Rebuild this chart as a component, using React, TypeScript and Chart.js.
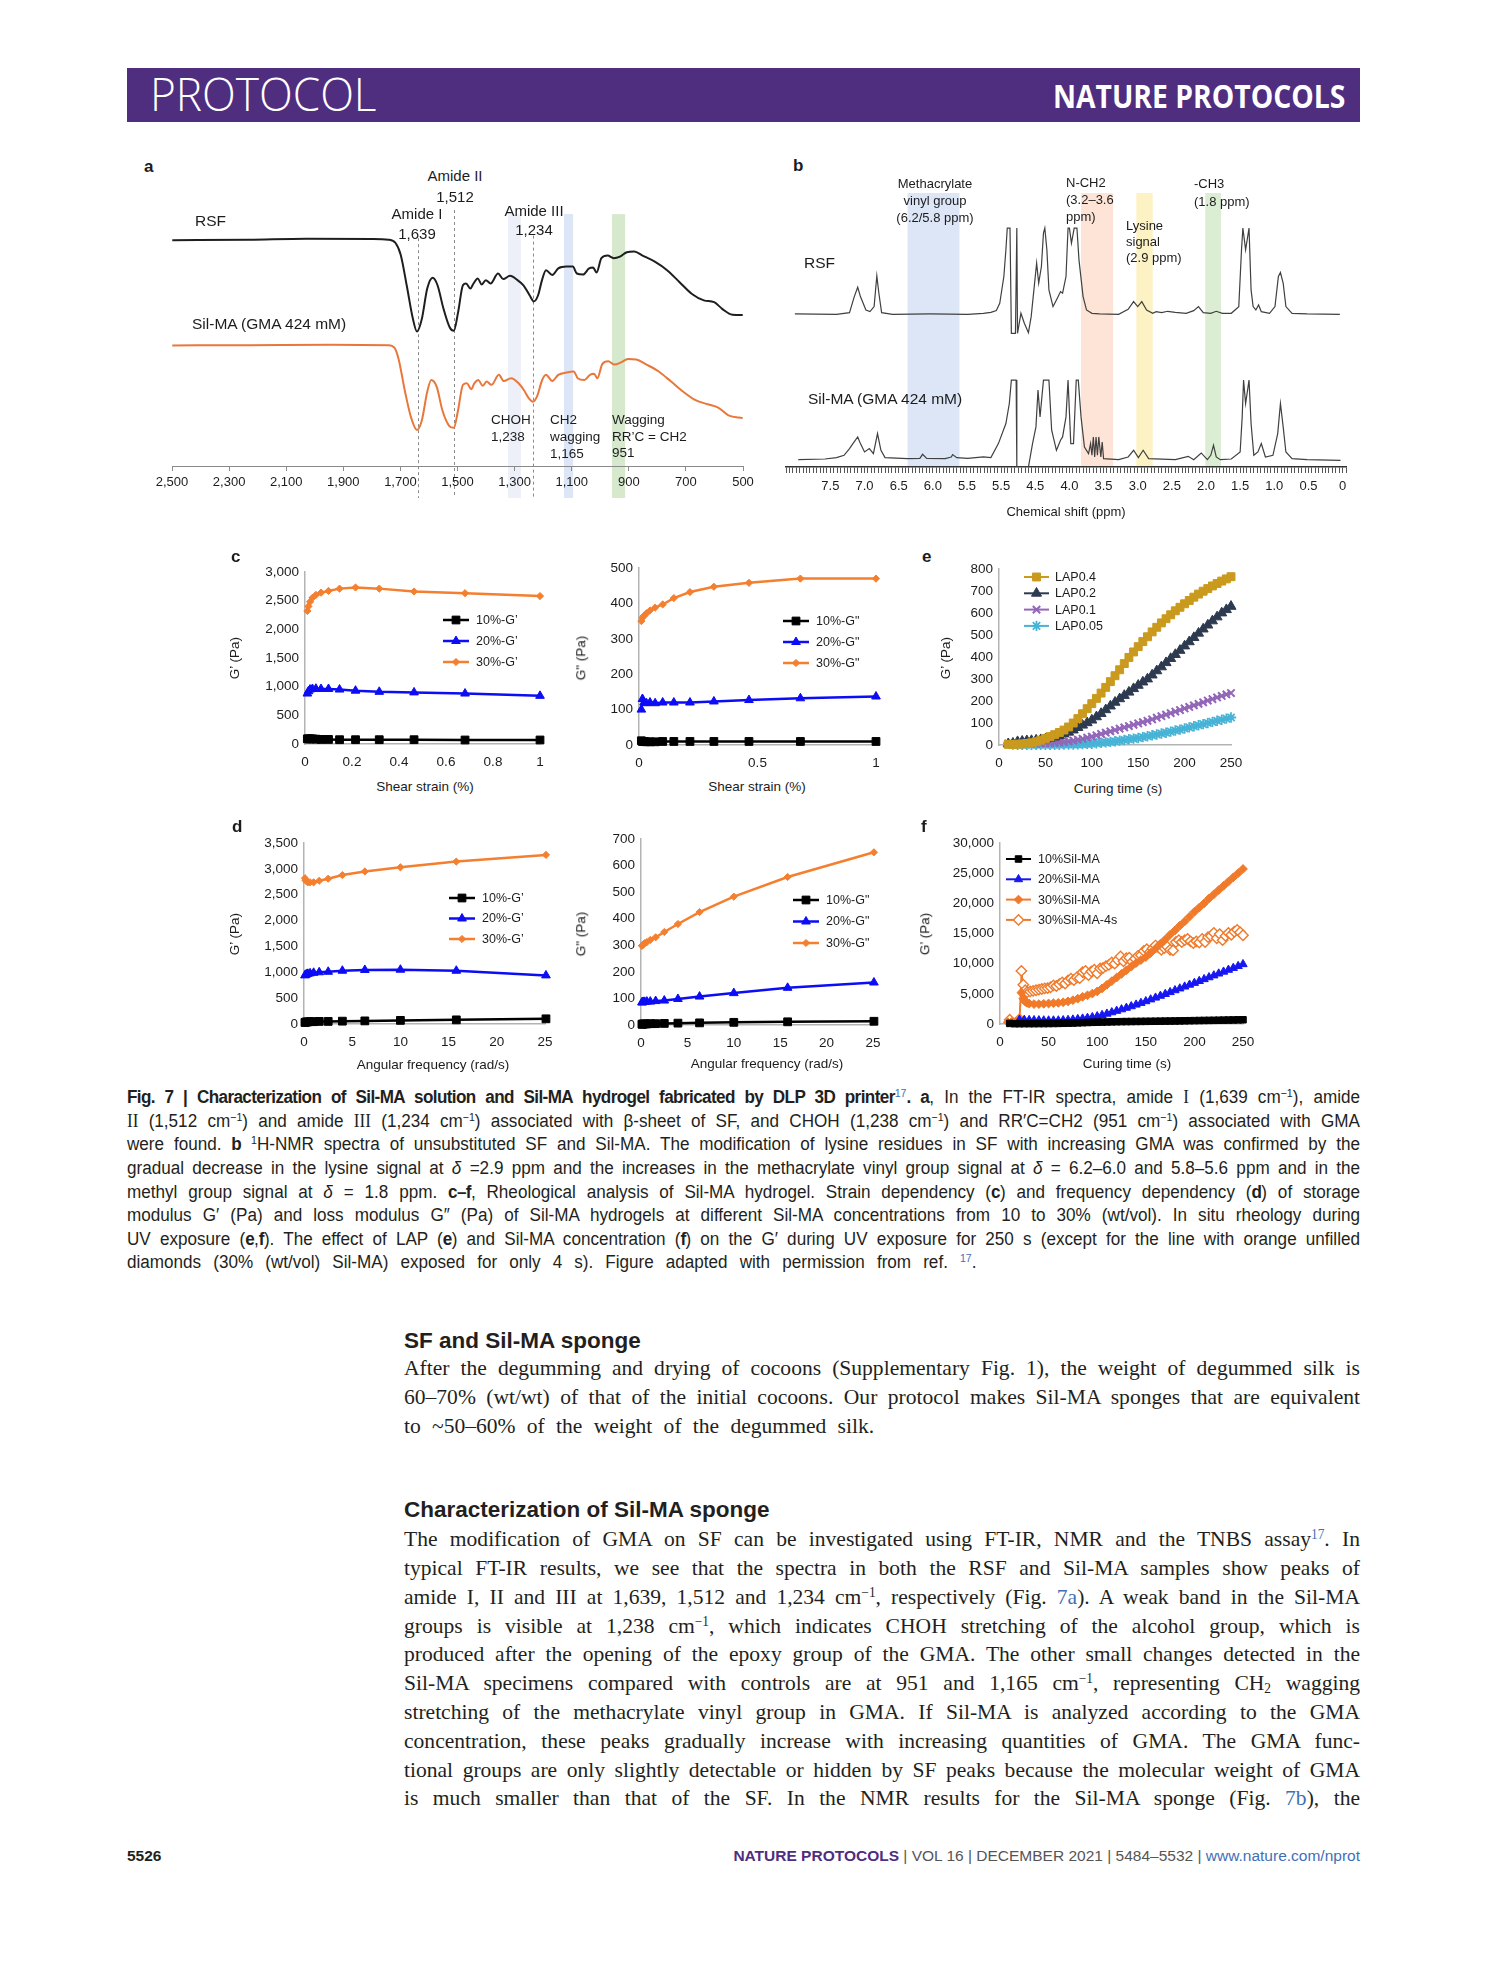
import React, { useEffect, useRef } from 'react';
import { Chart, registerables } from 'chart.js';
import { drawPoint } from 'chart.js/helpers';

Chart.register(...registerables);

const FONT = '"Liberation Sans", Arial, Helvetica, sans-serif';
const SERIF = '"Liberation Serif", "Times New Roman", serif';
const INK = '#1c1c1c';
const AXIS = '#b3b3b3';
const PURPLE = '#4f2d7f';
const LINK = '#3f6fb6';

// ---------------- Panel a : FT-IR ----------------
const aRsfWavenumber = [2499, 2230, 2029, 1800, 1742, 1717, 1699, 1678, 1656, 1642, 1625, 1606, 1587, 1570, 1549, 1527, 1513, 1498, 1481, 1470, 1455, 1444, 1429, 1415, 1401, 1384, 1358, 1340, 1316, 1290, 1269, 1247, 1233, 1218, 1204, 1190, 1168, 1147, 1118, 1096, 1082, 1060, 1039, 1025, 1013, 996, 974, 953, 931, 907, 881, 852, 809, 766, 723, 680, 637, 601, 573, 537, 501];
const aRsfSignal = [88.2, 88.4, 88.8, 88.7, 88.4, 87.1, 82.5, 70.6, 57.4, 52.5, 57.4, 69.3, 73.5, 70.6, 61.4, 54.1, 52.8, 60.0, 70.6, 71.3, 69.3, 71.3, 73.2, 70.9, 72.6, 71.3, 75.2, 73.0, 74.3, 72.6, 70.6, 66.6, 64.3, 66.6, 72.6, 76.5, 74.6, 77.2, 77.9, 77.9, 75.2, 74.8, 77.2, 77.5, 75.6, 81.2, 82.2, 81.2, 81.8, 83.5, 83.8, 82.2, 79.8, 76.5, 71.9, 67.3, 64.7, 64.0, 61.4, 59.1, 59.0];
const aSilWavenumber = [2499, 2230, 1943, 1742, 1721, 1706, 1685, 1663, 1642, 1625, 1606, 1592, 1573, 1553, 1530, 1513, 1498, 1481, 1467, 1452, 1441, 1427, 1412, 1398, 1381, 1355, 1338, 1312, 1286, 1266, 1250, 1236, 1221, 1204, 1190, 1168, 1147, 1118, 1093, 1079, 1056, 1036, 1022, 1010, 993, 972, 950, 927, 903, 874, 838, 795, 752, 709, 666, 623, 587, 551, 501];
const aSilSignal = [47.1, 47.2, 47.4, 47.2, 46.2, 41.6, 29.7, 19.1, 14.1, 17.8, 29.0, 33.6, 31.0, 21.8, 15.8, 14.9, 21.8, 31.7, 32.3, 30.0, 32.3, 33.6, 31.3, 33.0, 31.7, 35.6, 33.2, 34.3, 32.3, 29.4, 26.4, 25.1, 27.3, 33.4, 35.6, 33.2, 35.6, 36.5, 36.9, 34.3, 33.6, 35.6, 36.0, 34.3, 39.8, 40.9, 39.6, 40.5, 41.8, 41.6, 39.6, 36.9, 33.0, 29.0, 25.7, 24.1, 22.8, 19.8, 18.7];
const aBandRanges = [[1323, 1278], [1127, 1095], [959, 913]];
const aBandExtent = [98.4, -12.5];
const aPeakLines = [1639, 1512, 1234];
const aPeakLineTops = [89, 100, 90];

// ---------------- Panel b : 1H-NMR ----------------
const bRsfShift = [8.02, 7.41, 7.22, 7.15, 7.10, 7.06, 6.98, 6.92, 6.86, 6.82, 6.79, 6.75, 6.59, 6.04, 5.49, 5.26, 5.15, 5.07, 5.02, 4.96, 4.93, 4.91, 4.87, 4.85, 4.79, 4.77, 4.76, 4.71, 4.66, 4.60, 4.56, 4.52, 4.48, 4.45, 4.41, 4.38, 4.36, 4.33, 4.30, 4.24, 4.19, 4.13, 4.10, 4.05, 4.02, 4.00, 3.97, 3.93, 3.89, 3.86, 3.80, 3.75, 3.67, 3.56, 3.28, 3.14, 3.06, 3.00, 2.94, 2.87, 2.78, 2.73, 2.65, 2.56, 2.45, 2.29, 2.18, 2.11, 2.04, 1.93, 1.85, 1.76, 1.63, 1.52, 1.48, 1.46, 1.42, 1.37, 1.34, 1.31, 1.27, 1.23, 1.19, 1.07, 0.99, 0.94, 0.91, 0.87, 0.83, 0.74, 0.52, 0.04];
const bRsfSignal = [45.8, 45.7, 46.2, 51.0, 53.8, 51.0, 47.0, 46.5, 48.0, 57.2, 52.0, 46.2, 45.7, 45.8, 45.7, 46.0, 46.3, 46.8, 49.0, 57.0, 65.0, 71.5, 71.5, 40.0, 40.0, 71.5, 40.0, 46.0, 43.0, 40.2, 45.0, 53.0, 61.0, 55.0, 60.0, 70.0, 71.5, 65.0, 53.0, 48.0, 50.0, 52.5, 52.0, 57.0, 71.5, 71.5, 67.0, 71.5, 71.5, 62.0, 51.0, 47.0, 46.0, 45.8, 45.7, 47.2, 49.5, 48.0, 49.5, 47.0, 46.0, 46.5, 46.2, 46.6, 46.3, 46.0, 46.8, 48.0, 46.2, 46.0, 46.6, 46.0, 46.0, 48.0, 65.0, 71.5, 65.0, 71.5, 53.0, 48.0, 47.0, 48.5, 46.5, 46.0, 48.0, 57.0, 58.2, 55.0, 48.0, 46.0, 45.8, 45.7];
const bSilShift = [7.97, 7.58, 7.41, 7.30, 7.22, 7.17, 7.10, 7.06, 7.00, 6.93, 6.87, 6.81, 6.76, 6.70, 6.37, 6.19, 6.15, 6.09, 5.82, 5.73, 5.71, 5.65, 5.49, 5.26, 5.15, 5.04, 4.93, 4.88, 4.85, 4.78, 4.77, 4.60, 4.54, 4.49, 4.46, 4.43, 4.38, 4.30, 4.26, 4.19, 4.13, 4.10, 4.05, 4.02, 3.98, 3.94, 3.90, 3.87, 3.83, 3.78, 3.72, 3.69, 3.67, 3.65, 3.63, 3.61, 3.59, 3.57, 3.54, 3.52, 3.50, 3.28, 3.14, 3.06, 2.99, 2.92, 2.84, 2.45, 2.26, 2.18, 2.07, 1.98, 1.93, 1.89, 1.85, 1.79, 1.63, 1.50, 1.47, 1.45, 1.42, 1.37, 1.34, 1.30, 1.24, 1.19, 1.13, 1.02, 0.95, 0.91, 0.87, 0.83, 0.74, 0.52, 0.03];
const bSilSignal = [2.2, 2.4, 2.8, 3.5, 5.5, 7.0, 9.0, 7.0, 4.5, 5.5, 4.0, 10.0, 5.0, 2.8, 2.5, 2.6, 3.8, 2.6, 2.5, 3.0, 3.7, 2.8, 2.6, 3.0, 2.8, 7.0, 13.0, 19.0, 26.0, 26.0, 0, 0, 7.0, 12.0, 23.0, 15.0, 26.0, 26.0, 11.0, 5.0, 8.0, 9.0, 15.0, 26.0, 7.0, 7.0, 26.0, 26.0, 15.0, 6.0, 4.0, 7.0, 3.5, 9.0, 3.0, 9.0, 3.5, 9.0, 3.0, 7.5, 2.5, 2.2, 3.0, 5.0, 2.8, 5.0, 2.5, 2.2, 3.2, 2.2, 4.2, 2.2, 3.5, 6.5, 3.0, 2.2, 2.4, 4.5, 15.0, 26.0, 19.0, 26.0, 13.0, 3.5, 4.5, 7.0, 3.0, 3.5, 10.0, 19.0, 12.0, 4.5, 2.5, 2.2, 2.0];
const bBandRanges = [[6.37, 5.61], [3.83, 3.36], [3.02, 2.78], [2.01, 1.78]];
const bBandExtent = [82, 0];
const bTickLabels = ['0', '0.5', '1.0', '1.5', '2.0', '2.5', '3.0', '3.5', '4.0', '4.5', '5.5', '5.5', '6.0', '6.5', '7.0', '7.5'];

// ---------------- Panel c : strain sweep ----------------
const cStrain = [0.01, 0.0147, 0.0215, 0.0316, 0.0464, 0.0681, 0.1, 0.147, 0.215, 0.316, 0.464, 0.681, 1];
const cStorage10 = [90, 90, 90, 90, 85, 80, 80, 75, 75, 75, 75, 70, 70];
const cStorage20 = [880, 920, 950, 960, 965, 960, 960, 950, 930, 910, 900, 880, 840];
const cStorage30 = [2320, 2400, 2480, 2550, 2600, 2640, 2670, 2710, 2730, 2710, 2660, 2630, 2580];
const cLoss10 = [12, 10, 10, 9, 9, 9, 10, 10, 10, 10, 10, 10, 10];
const cLoss20 = [100, 130, 120, 118, 120, 118, 120, 120, 120, 123, 127, 132, 137];
const cLoss30 = [350, 360, 365, 372, 380, 388, 397, 415, 432, 447, 458, 470, 470];

// ---------------- Panel d : frequency sweep ----------------
const dFrequency = [0.1, 0.158, 0.251, 0.398, 0.631, 1, 1.58, 2.51, 3.98, 6.31, 10, 15.8, 25.1];
const dStorage10 = [30, 35, 40, 40, 45, 45, 50, 50, 55, 60, 70, 80, 100];
const dStorage20 = [940, 950, 960, 970, 980, 990, 1000, 1010, 1030, 1045, 1050, 1030, 940];
const dStorage30 = [2820, 2780, 2760, 2740, 2740, 2740, 2770, 2810, 2880, 2950, 3030, 3140, 3270];
const dLoss10 = [3, 3, 4, 4, 4, 5, 5, 6, 7, 8, 10, 12, 14];
const dLoss20 = [85, 85, 87, 87, 88, 88, 90, 92, 98, 107, 120, 140, 160];
const dLoss30 = [298, 300, 303, 308, 312, 320, 330, 350, 380, 425, 483, 557, 650];

// ---------------- Panel e : LAP effect ----------------
const eTime = [10, 15, 20, 25, 30, 35, 40, 45, 50, 55, 60, 65, 70, 75, 80, 85, 90, 95, 100, 105, 110, 115, 120, 125, 130, 135, 140, 145, 150, 155, 160, 165, 170, 175, 180, 185, 190, 195, 200, 205, 210, 215, 220, 225, 230, 235, 240, 245, 250];
const eLAP04 = [3, 3, 4, 5, 7, 10, 15, 22, 30, 38, 47, 57, 68, 82, 100, 120, 142, 165, 188, 212, 236, 262, 288, 315, 342, 370, 398, 423, 447, 470, 492, 514, 535, 555, 574, 592, 610, 626, 642, 657, 672, 686, 699, 711, 723, 734, 745, 755, 765];
const eLAP02 = [5, 8, 15, 17, 19, 20, 22, 24, 27, 31, 36, 42, 50, 58, 68, 79, 90, 101, 113, 128, 143, 160, 177, 194, 210, 225, 240, 256, 271, 286, 300, 318, 337, 355, 374, 393, 411, 430, 450, 469, 488, 508, 527, 545, 564, 582, 600, 615, 630];
const eLAP01 = [3, 4, 5, 5, 5, 6, 6, 7, 8, 9, 10, 12, 14, 17, 20, 24, 28, 33, 38, 44, 50, 56, 62, 68, 74, 80, 86, 92, 98, 104, 110, 117, 124, 131, 138, 145, 152, 159, 166, 173, 180, 187, 194, 202, 209, 216, 223, 230, 236];
const eLAP005 = [8, 2, 1, 1, 1, 1, 1, 1, 1, 1, 1, 1, 2, 2, 2, 3, 4, 5, 6, 8, 10, 12, 14, 17, 20, 23, 26, 29, 32, 36, 40, 44, 48, 52, 56, 61, 66, 70, 75, 80, 85, 90, 95, 100, 105, 110, 115, 120, 125];

// ---------------- Panel f : Sil-MA concentration ----------------
const f10Time = [10, 15, 20, 25, 30, 35, 40, 45, 50, 55, 60, 65, 70, 75, 80, 85, 90, 95, 100, 105, 110, 115, 120, 125, 130, 135, 140, 145, 150, 155, 160, 165, 170, 175, 180, 185, 190, 195, 200, 205, 210, 215, 220, 225, 230, 235, 240, 245, 250];
const f10SilMA = [100, 50, 50, 60, 60, 60, 70, 70, 80, 90, 100, 120, 140, 160, 190, 220, 250, 280, 300, 320, 340, 360, 375, 390, 400, 410, 420, 430, 440, 450, 460, 470, 480, 490, 500, 515, 530, 545, 560, 575, 590, 600, 610, 625, 640, 655, 670, 690, 700];
const f20Time = [20, 25, 30, 35, 40, 45, 50, 55, 60, 65, 70, 75, 80, 85, 90, 95, 100, 105, 110, 115, 120, 125, 130, 135, 140, 145, 150, 155, 160, 165, 170, 175, 180, 185, 190, 195, 200, 205, 210, 215, 220, 225, 230, 235, 240, 245, 250];
const f20SilMA = [700, 680, 650, 620, 600, 580, 570, 570, 580, 610, 660, 720, 800, 890, 1000, 1130, 1270, 1480, 1700, 1930, 2170, 2420, 2670, 2930, 3200, 3480, 3760, 4060, 4360, 4660, 4960, 5270, 5580, 5880, 6190, 6500, 6800, 7110, 7420, 7730, 8040, 8350, 8660, 8970, 9280, 9590, 9900];
const f30Time = [8, 12, 16, 20, 22, 24, 26, 28, 30, 35, 40, 45, 50, 55, 60, 65, 70, 75, 80, 85, 90, 95, 100, 105, 110, 115, 120, 125, 130, 135, 140, 145, 150, 155, 160, 165, 170, 175, 180, 185, 190, 195, 200, 205, 210, 215, 220, 225, 230, 235, 240, 245, 250];
const f30SilMA = [300, 350, 400, 700, 5200, 4200, 3700, 3500, 3400, 3300, 3300, 3350, 3400, 3450, 3500, 3600, 3750, 3950, 4200, 4500, 4750, 5050, 5400, 5900, 6500, 7100, 7700, 8300, 8900, 9500, 10100, 10600, 11100, 11800, 12500, 13300, 14000, 14800, 15500, 16300, 17000, 17800, 18600, 19300, 20000, 20800, 21500, 22200, 22900, 23600, 24300, 25000, 25700];
const f4sTime = [10, 20, 22, 24, 26, 28, 31, 34, 37, 40, 43, 46, 49, 52, 55, 58, 61, 64, 67, 70, 73, 76, 79, 82, 85, 88, 91, 94, 97, 100, 103, 106, 109, 112, 115, 118, 121, 124, 127, 130, 133, 136, 139, 142, 145, 148, 151, 154, 157, 160, 163, 166, 169, 172, 175, 178, 181, 184, 187, 190, 193, 196, 199, 202, 205, 208, 211, 214, 217, 220, 223, 226, 229, 232, 235, 238, 241, 244, 247, 250];
const f30SilMA4s = [700, 800, 8800, 6500, 5600, 5300, 5400, 5500, 5600, 5700, 5800, 5900, 5950, 6100, 6400, 6300, 6600, 6900, 6700, 7200, 7500, 7300, 7700, 7600, 8600, 8800, 8100, 8700, 9000, 8400, 9200, 9300, 9600, 9800, 10200, 10000, 10600, 11200, 10400, 10900, 11000, 10300, 10800, 11300, 11400, 12100, 12400, 11900, 12500, 13000, 12700, 12300, 12600, 12800, 12300, 12200, 13600, 13900, 13600, 13900, 14100, 13700, 13400, 13700, 13500, 14100, 13600, 14400, 14600, 15100, 14200, 14900, 13900, 14600, 15100, 14800, 15300, 15600, 15200, 14700];

// ---------------- helpers ----------------
const pts = (xs: number[], ys: number[]) => xs.map((x, i) => ({ x, y: ys[i] }));
const fmt = (v: any) => Number(v).toLocaleString('en-US', { maximumFractionDigits: 2 });
const fitTo = (size: number) => (s: any) => {
  if (s.isHorizontal()) s.height = size;
  else s.width = size;
  s.paddingLeft = 0; s.paddingRight = 0; s.paddingTop = 0; s.paddingBottom = 0;
};

function bandPlugin(ranges: number[][], colors: string[], extent: number[], lines: number[] = [], lineTops: number[] = []) {
  return {
    id: 'bands',
    beforeDraw(chart: any) {
      const { ctx } = chart;
      const x = chart.scales.x;
      const y = chart.scales.y;
      ctx.save();
      ranges.forEach((r, i) => {
        const xa = x.getPixelForValue(r[0]);
        const xb = x.getPixelForValue(r[1]);
        const ya = y.getPixelForValue(extent[0]);
        const yb = y.getPixelForValue(extent[1]);
        ctx.fillStyle = colors[i];
        ctx.fillRect(Math.min(xa, xb), Math.min(ya, yb), Math.abs(xb - xa), Math.abs(yb - ya));
      });
      ctx.strokeStyle = '#8a8a8a';
      ctx.lineWidth = 1;
      ctx.setLineDash([3, 3]);
      lines.forEach((v, i) => {
        const px = Math.round(x.getPixelForValue(v)) + 0.5;
        ctx.beginPath();
        ctx.moveTo(px, y.getPixelForValue(lineTops[i]));
        ctx.lineTo(px, y.getPixelForValue(extent[1]));
        ctx.stroke();
      });
      ctx.restore();
    },
  };
}

function legendPlugin(lg: any, ox: number, oy: number) {
  return {
    id: 'insideLegend',
    afterDraw(chart: any) {
      const ctx = chart.ctx;
      ctx.save();
      chart.data.datasets.forEach((ds: any, i: number) => {
        const x = lg.x - ox;
        const y = lg.y - oy + i * lg.row;
        ctx.setLineDash([]);
        ctx.strokeStyle = ds.borderColor;
        ctx.lineWidth = lg.lw;
        ctx.beginPath();
        ctx.moveTo(x, y);
        ctx.lineTo(x + lg.len, y);
        ctx.stroke();
        ctx.fillStyle = ds.pointBackgroundColor;
        ctx.strokeStyle = ds.pointBorderColor;
        ctx.lineWidth = ds.pointBorderWidth;
        drawPoint(ctx, { pointStyle: ds.pointStyle, rotation: 0, radius: ds.pointRadius, borderWidth: ds.pointBorderWidth } as any, x + lg.len / 2, y);
        ctx.fillStyle = INK;
        ctx.font = `${lg.size}px ${FONT}`;
        ctx.textBaseline = 'middle';
        ctx.textAlign = 'left';
        ctx.fillText(ds.label, x + lg.len + lg.gap, y + 0.5);
      });
      ctx.restore();
    },
  };
}

const STY: any = {
  black: { color: '#000000', fill: '#000000', point: 'rect', r: 5.5, bw: 1 },
  blue: { color: '#0c0cf5', fill: '#0c0cf5', point: 'triangle', r: 5, bw: 1 },
  orange: { color: '#f47f2e', fill: '#f47f2e', point: 'rectRot', r: 3.6, bw: 1 },
  fblack: { color: '#000000', fill: '#000000', point: 'rect', r: 4.6, bw: 1 },
  fblue: { color: '#1717f2', fill: '#1717f2', point: 'triangle', r: 4.8, bw: 1 },
  forange: { color: '#f07a2a', fill: '#f07a2a', point: 'rectRot', r: 4.4, bw: 1 },
  fopen: { color: '#f07a2a', fill: '#ffffff', point: 'rectRot', r: 5.2, bw: 1.4 },
  lap04: { color: '#c99a1d', fill: '#c99a1d', point: 'rect', r: 5.6, bw: 1 },
  lap02: { color: '#2d3a4f', fill: '#2d3a4f', point: 'triangle', r: 5.8, bw: 1 },
  lap01: { color: '#9266b8', fill: '#9266b8', point: 'crossRot', r: 5.2, bw: 2 },
  lap005: { color: '#47b3d6', fill: '#47b3d6', point: 'star', r: 5.2, bw: 1.8 },
};

function series(label: string, xs: number[], ys: number[], st: any, lw: number) {
  return {
    label, data: pts(xs, ys), showLine: true, borderColor: st.color, backgroundColor: st.fill, borderWidth: lw,
    pointStyle: st.point, pointRadius: st.r, pointBackgroundColor: st.fill, pointBorderColor: st.color,
    pointBorderWidth: st.bw, clip: false, tension: 0,
  };
}

const baseOpts = (padding: any) => ({
  animation: false, responsive: false, maintainAspectRatio: false, layout: { padding },
  plugins: { legend: { display: false }, tooltip: { enabled: false } },
  events: [],
});

function rheoConfig(pad: any, ox: number, oy: number, datasets: any[], xr: number[], yr: number[], lg: any) {
  const font = { family: FONT, size: 13.5 };
  return {
    type: 'scatter',
    data: { datasets },
    options: {
      ...baseOpts({ left: 0, top: pad.t, right: pad.r, bottom: 0 }),
      scales: {
        x: {
          type: 'linear', min: xr[0], max: xr[1], afterFit: fitTo(pad.b),
          ticks: { stepSize: xr[2], autoSkip: false, maxRotation: 0, minRotation: 0, padding: 10, color: INK, font, callback: fmt },
          grid: { display: false, drawTicks: false },
          border: { display: true, color: AXIS, width: 1.5 },
        },
        y: {
          type: 'linear', min: yr[0], max: yr[1], afterFit: fitTo(pad.l),
          ticks: { stepSize: yr[2], autoSkip: false, padding: 6, color: INK, font, callback: fmt },
          grid: { display: false, drawTicks: false },
          border: { display: true, color: AXIS, width: 1.5 },
        },
      },
    },
    plugins: [legendPlugin(lg, ox, oy)],
  };
}

function ChartBox({ area, pad, make }: any) {
  const ref = useRef<HTMLCanvasElement | null>(null);
  const left = area.x0 - pad.l;
  const top = area.y0 - pad.t;
  const width = area.x1 - area.x0 + pad.l + pad.r;
  const height = area.y1 - area.y0 + pad.t + pad.b;
  useEffect(() => {
    const chart = new Chart(ref.current as HTMLCanvasElement, make(pad, left, top) as any);
    return () => chart.destroy();
  }, []);
  return <canvas ref={ref} width={width} height={height} style={{ position: 'absolute', left, top, width, height }} />;
}

function L({ x, y, s = 13.5, a = 'l', w = 400, c = INK, f = FONT, rot = false, children }: any) {
  const tx = a === 'c' ? '-50%' : a === 'r' ? '-100%' : '0%';
  return (
    <div style={{ position: 'absolute', left: x, top: y, fontFamily: f, fontSize: s, fontWeight: w, color: c, lineHeight: 1, whiteSpace: 'nowrap', transform: rot ? 'translate(-50%,-50%) rotate(-90deg)' : `translate(${tx},-50%)` }}>
      {children}
    </div>
  );
}

function JL({ x, y, w, s, f, sc = 1, last = false, ws = 0, c = '#231f20', children }: any) {
  return (
    <div style={{ position: 'absolute', left: x, top: y - 0.6 * s, width: w / sc, transform: `scaleX(${sc})`, transformOrigin: '0 0', fontFamily: f, fontSize: s, lineHeight: 1, textAlign: 'justify', textAlignLast: last ? 'left' : 'justify', wordSpacing: ws, color: c } as any}>
      {children}
    </div>
  );
}

const Sp = ({ children, blue }: any) => (
  <span style={{ fontSize: '0.62em', verticalAlign: '0.55em', lineHeight: 0, color: blue ? LINK : undefined }}>{children}</span>
);
const Sb = ({ children }: any) => (
  <span style={{ fontSize: '0.62em', verticalAlign: '-0.25em', lineHeight: 0 }}>{children}</span>
);
const Rn = ({ children }: any) => <span style={{ fontFamily: SERIF }}>{children}</span>;
const B = ({ children }: any) => <b style={{ letterSpacing: '-0.035em' }}>{children}</b>;

// ---------------- chart builders ----------------
const makeA = (pad: any) => ({
  type: 'scatter',
  data: {
    datasets: [
      { label: 'RSF', data: pts(aRsfWavenumber, aRsfSignal), showLine: true, borderColor: '#1e1e1e', borderWidth: 2, pointRadius: 0, cubicInterpolationMode: 'monotone', tension: 0.4 },
      { label: 'Sil-MA (GMA 424 mM)', data: pts(aSilWavenumber, aSilSignal), showLine: true, borderColor: '#e9773a', borderWidth: 2, pointRadius: 0, cubicInterpolationMode: 'monotone', tension: 0.4 },
    ],
  },
  options: {
    ...baseOpts({ left: pad.l, top: pad.t, right: pad.r, bottom: 0 }),
    scales: {
      x: {
        type: 'linear', reverse: true, min: 500, max: 2500, afterFit: fitTo(pad.b),
        ticks: { stepSize: 200, autoSkip: false, maxRotation: 0, minRotation: 0, padding: 4, color: INK, font: { family: FONT, size: 13 }, callback: fmt },
        grid: { display: true, drawOnChartArea: false, drawTicks: true, tickLength: 5, color: '#8a8a8a' },
        border: { display: true, color: '#8a8a8a', width: 1 },
      },
      y: { type: 'linear', min: 0, max: 100, display: false },
    },
  },
  plugins: [bandPlugin(aBandRanges, ['#edf0f9', '#dde6f7', '#d6e9cd'], aBandExtent, aPeakLines, aPeakLineTops)],
});

const makeB = (pad: any) => ({
  type: 'scatter',
  data: {
    datasets: [
      { label: 'RSF', data: pts(bRsfShift, bRsfSignal), showLine: true, borderColor: '#404040', borderWidth: 1.2, pointRadius: 0, tension: 0 },
      { label: 'Sil-MA (GMA 424 mM)', data: pts(bSilShift, bSilSignal), showLine: true, borderColor: '#404040', borderWidth: 1.2, pointRadius: 0, tension: 0 },
    ],
  },
  options: {
    ...baseOpts({ left: pad.l, top: pad.t, right: pad.r, bottom: 0 }),
    scales: {
      x: {
        type: 'linear', reverse: true, min: -0.05, max: 8.15, afterFit: fitTo(pad.b),
        ticks: {
          stepSize: 0.05, autoSkip: false, maxRotation: 0, minRotation: 0, padding: 6, color: INK, font: { family: FONT, size: 13 },
          callback: (v: any) => {
            const k = Math.round(Number(v) * 100);
            return k >= 0 && k % 50 === 0 ? (bTickLabels[k / 50] ?? '') : '';
          },
        },
        grid: { display: true, drawOnChartArea: false, drawTicks: true, tickLength: 6, color: '#555555', lineWidth: 1 },
        border: { display: true, color: '#333333', width: 1.5 },
      },
      y: { type: 'linear', min: 0, max: 82, display: false },
    },
  },
  plugins: [bandPlugin(bBandRanges, ['#dde6f6', '#fde4d7', '#fdf2c3', '#dbedd2'], bBandExtent)],
});

const lgC = (x: number, y: number, row: number) => ({ x, y, row, len: 26, gap: 7, size: 12.5, lw: 2.5 });

const CAP = { x: 127, w: 1233, s: 18, f: FONT, sc: 0.95, c: '#231f20' };
const BODY = { x: 404, w: 956, s: 22, f: SERIF, sc: 0.98 };

export default function App() {
  const pageText = '#231f20';
  return (
    <div style={{ position: 'absolute', left: 0, top: 0, width: 1489, height: 1978, background: '#ffffff', overflow: 'hidden' }}>
      {/* header */}
      <div style={{ position: 'absolute', left: 127, top: 68, width: 1233, height: 54, background: PURPLE }} />
      <div style={{ position: 'absolute', left: 150, top: 70, fontFamily: '"Open Sans", sans-serif', fontWeight: 300, fontSize: 46, lineHeight: 1, color: '#ffffff', transform: 'scaleX(0.96)', transformOrigin: '0 0', whiteSpace: 'nowrap' }}>PROTOCOL</div>
      <div style={{ position: 'absolute', right: 144, top: 80, fontFamily: '"Open Sans", sans-serif', fontWeight: 700, fontSize: 32, lineHeight: 1, color: '#ffffff', transform: 'scaleX(0.885)', transformOrigin: '100% 0', whiteSpace: 'nowrap' }}>NATURE PROTOCOLS</div>

      {/* panel a */}
      <ChartBox area={{ x0: 172, y0: 210, x1: 743, y1: 466 }} pad={{ l: 40, t: 10, r: 40, b: 44 }} make={makeA} />
      <L x={144} y={166} s={17} w={700}>a</L>
      <L x={195} y={221} s={15.5}>RSF</L>
      <L x={192} y={324} s={15.5}>Sil-MA (GMA 424 mM)</L>
      <L x={455} y={175} s={15} a="c">Amide II</L>
      <L x={455} y={196} s={15} a="c">1,512</L>
      <L x={417} y={213} s={15} a="c">Amide I</L>
      <L x={417} y={233} s={15} a="c">1,639</L>
      <L x={534} y={210} s={15} a="c">Amide III</L>
      <L x={534} y={229} s={15} a="c">1,234</L>
      <L x={491} y={420} s={13.5}>CHOH</L>
      <L x={491} y={437} s={13.5}>1,238</L>
      <L x={550} y={420} s={13.5}>CH2</L>
      <L x={550} y={437} s={13.5}>wagging</L>
      <L x={550} y={454} s={13.5}>1,165</L>
      <L x={612} y={420} s={13.5}>Wagging</L>
      <L x={612} y={437} s={13.5}>RR’C = CH2</L>
      <L x={612} y={453} s={13.5}>951</L>

      {/* panel b */}
      <ChartBox area={{ x0: 786, y0: 193, x1: 1346, y1: 467 }} pad={{ l: 10, t: 10, r: 30, b: 44 }} make={makeB} />
      <L x={793} y={165} s={17} w={700}>b</L>
      <L x={804} y={263} s={15.5}>RSF</L>
      <L x={808} y={399} s={15.5}>Sil-MA (GMA 424 mM)</L>
      <L x={935} y={183} s={13} a="c">Methacrylate</L>
      <L x={935} y={200} s={13} a="c">vinyl group</L>
      <L x={935} y={217} s={13} a="c">(6.2/5.8 ppm)</L>
      <L x={1066} y={182} s={13}>N-CH2</L>
      <L x={1066} y={199} s={13}>(3.2–3.6</L>
      <L x={1066} y={216} s={13}>ppm)</L>
      <L x={1126} y={225} s={13}>Lysine</L>
      <L x={1126} y={241} s={13}>signal</L>
      <L x={1126} y={257} s={13}>(2.9 ppm)</L>
      <L x={1194} y={183} s={13}>-CH3</L>
      <L x={1194} y={201} s={13}>(1.8 ppm)</L>
      <L x={1066} y={511} s={13} a="c">Chemical shift (ppm)</L>

      {/* panel c */}
      <ChartBox area={{ x0: 305, y0: 572, x1: 540, y1: 744 }} pad={{ l: 70, t: 14, r: 30, b: 34 }}
        make={(p: any, ox: number, oy: number) => rheoConfig(p, ox, oy, [
          series('10%-G’', cStrain, cStorage10, STY.black, 2.5),
          series('20%-G’', cStrain, cStorage20, STY.blue, 2.5),
          series('30%-G’', cStrain, cStorage30, STY.orange, 2.5),
        ], [0, 1, 0.2], [0, 3000, 500], lgC(443, 620, 21))} />
      <L x={231} y={556} s={17} w={700}>c</L>
      <L x={235} y={658} rot>G’ (Pa)</L>
      <L x={425} y={787} a="c">Shear strain (%)</L>

      <ChartBox area={{ x0: 639, y0: 568, x1: 876, y1: 745 }} pad={{ l: 60, t: 14, r: 30, b: 34 }}
        make={(p: any, ox: number, oy: number) => rheoConfig(p, ox, oy, [
          series('10%-G"', cStrain, cLoss10, STY.black, 2.5),
          series('20%-G"', cStrain, cLoss20, STY.blue, 2.5),
          series('30%-G"', cStrain, cLoss30, STY.orange, 2.5),
        ], [0, 1, 0.5], [0, 500, 100], lgC(783, 621, 21))} />
      <L x={581} y={658} rot>G" (Pa)</L>
      <L x={757} y={787} a="c">Shear strain (%)</L>

      {/* panel e */}
      <ChartBox area={{ x0: 999, y0: 569, x1: 1231, y1: 745 }} pad={{ l: 50, t: 14, r: 30, b: 34 }}
        make={(p: any, ox: number, oy: number) => rheoConfig(p, ox, oy, [
          series('LAP0.4', eTime, eLAP04, STY.lap04, 1.5),
          series('LAP0.2', eTime, eLAP02, STY.lap02, 1.5),
          series('LAP0.1', eTime, eLAP01, STY.lap01, 1.5),
          series('LAP0.05', eTime, eLAP005, STY.lap005, 1.5),
        ], [0, 250, 50], [0, 800, 100], { x: 1024, y: 577, row: 16.3, len: 25, gap: 6, size: 12.5, lw: 2 })} />
      <L x={922} y={556} s={17} w={700}>e</L>
      <L x={946} y={658} rot>G’ (Pa)</L>
      <L x={1118} y={789} a="c">Curing time (s)</L>

      {/* panel d */}
      <ChartBox area={{ x0: 304, y0: 843, x1: 545, y1: 1024 }} pad={{ l: 70, t: 14, r: 30, b: 34 }}
        make={(p: any, ox: number, oy: number) => rheoConfig(p, ox, oy, [
          series('10%-G’', dFrequency, dStorage10, STY.black, 2.5),
          series('20%-G’', dFrequency, dStorage20, STY.blue, 2.5),
          series('30%-G’', dFrequency, dStorage30, STY.orange, 2.5),
        ], [0, 25, 5], [0, 3500, 500], lgC(449, 898, 20.5))} />
      <L x={232} y={826} s={17} w={700}>d</L>
      <L x={235} y={934} rot>G’ (Pa)</L>
      <L x={433} y={1065} a="c">Angular frequency (rad/s)</L>

      <ChartBox area={{ x0: 641, y0: 839, x1: 873, y1: 1025 }} pad={{ l: 60, t: 14, r: 30, b: 34 }}
        make={(p: any, ox: number, oy: number) => rheoConfig(p, ox, oy, [
          series('10%-G"', dFrequency, dLoss10, STY.black, 2.5),
          series('20%-G"', dFrequency, dLoss20, STY.blue, 2.5),
          series('30%-G"', dFrequency, dLoss30, STY.orange, 2.5),
        ], [0, 25, 5], [0, 700, 100], lgC(793, 900, 21.5))} />
      <L x={581} y={934} rot>G" (Pa)</L>
      <L x={767} y={1064} a="c">Angular frequency (rad/s)</L>

      {/* panel f */}
      <ChartBox area={{ x0: 1000, y0: 843, x1: 1243, y1: 1024 }} pad={{ l: 70, t: 14, r: 30, b: 34 }}
        make={(p: any, ox: number, oy: number) => rheoConfig(p, ox, oy, [
          series('10%Sil-MA', f10Time, f10SilMA, STY.fblack, 1.5),
          series('20%Sil-MA', f20Time, f20SilMA, STY.fblue, 1.5),
          series('30%Sil-MA', f30Time, f30SilMA, STY.forange, 1.5),
          series('30%Sil-MA-4s', f4sTime, f30SilMA4s, STY.fopen, 1.5),
        ], [0, 250, 50], [0, 30000, 5000], { x: 1006, y: 859, row: 20.3, len: 25, gap: 7, size: 12.5, lw: 2 })} />
      <L x={921} y={826} s={17} w={700}>f</L>
      <L x={925} y={934} rot>G’ (Pa)</L>
      <L x={1127} y={1064} a="c">Curing time (s)</L>

      {/* caption */}
      <JL {...CAP} y={1099}>
        <B>Fig. 7 | Characterization of Sil-MA solution and Sil-MA hydrogel fabricated by DLP 3D printer</B><Sp blue>17</Sp><B>. a</B>, In the FT-IR spectra, amide <Rn>I</Rn> (1,639 cm<Sp>−1</Sp>), amide
      </JL>
      <JL {...CAP} y={1122.6}>
        <Rn>II</Rn> (1,512 cm<Sp>−1</Sp>) and amide <Rn>III</Rn> (1,234 cm<Sp>−1</Sp>) associated with β-sheet of SF, and CHOH (1,238 cm<Sp>−1</Sp>) and RR′C=CH2 (951 cm<Sp>−1</Sp>) associated with GMA
      </JL>
      <JL {...CAP} y={1146.2}>
        were found. <B>b</B> <Sp>1</Sp>H-NMR spectra of unsubstituted SF and Sil-MA. The modification of lysine residues in SF with increasing GMA was confirmed by the
      </JL>
      <JL {...CAP} y={1169.8}>
        gradual decrease in the lysine signal at <i>δ</i> =2.9 ppm and the increases in the methacrylate vinyl group signal at <i>δ</i> = 6.2–6.0 and 5.8–5.6 ppm and in the
      </JL>
      <JL {...CAP} y={1193.4}>
        methyl group signal at <i>δ</i> = 1.8 ppm. <B>c–f</B>, Rheological analysis of Sil-MA hydrogel. Strain dependency (<B>c</B>) and frequency dependency (<B>d</B>) of storage
      </JL>
      <JL {...CAP} y={1217}>
        modulus G′ (Pa) and loss modulus G″ (Pa) of Sil-MA hydrogels at different Sil-MA concentrations from 10 to 30% (wt/vol). In situ rheology during
      </JL>
      <JL {...CAP} y={1240.6}>
        UV exposure (<B>e</B>,<B>f</B>). The effect of LAP (<B>e</B>) and Sil-MA concentration (<B>f</B>) on the G′ during UV exposure for 250 s (except for the line with orange unfilled
      </JL>
      <JL {...CAP} y={1264.2} last ws={7.7}>
        diamonds (30% (wt/vol) Sil-MA) exposed for only 4 s). Figure adapted with permission from ref. <Sp blue>17</Sp>.
      </JL>

      {/* body */}
      <L x={404} y={1341} s={22.5} w={700} c={pageText}>SF and Sil-MA sponge</L>
      <JL {...BODY} y={1370}>After the degumming and drying of cocoons (Supplementary Fig. 1), the weight of degummed silk is</JL>
      <JL {...BODY} y={1399}>60–70% (wt/wt) of that of the initial cocoons. Our protocol makes Sil-MA sponges that are equivalent</JL>
      <JL {...BODY} y={1428} last ws={6}>to ~50–60% of the weight of the degummed silk.</JL>

      <L x={404} y={1510} s={22.5} w={700} c={pageText}>Characterization of Sil-MA sponge</L>
      <JL {...BODY} y={1541}>The modification of GMA on SF can be investigated using FT-IR, NMR and the TNBS assay<Sp blue>17</Sp>. In</JL>
      <JL {...BODY} y={1570}>typical FT-IR results, we see that the spectra in both the RSF and Sil-MA samples show peaks of</JL>
      <JL {...BODY} y={1599}>amide I, II and III at 1,639, 1,512 and 1,234 cm<Sp>−1</Sp>, respectively (Fig. <span style={{ color: LINK }}>7a</span>). A weak band in the Sil-MA</JL>
      <JL {...BODY} y={1628}>groups is visible at 1,238 cm<Sp>−1</Sp>, which indicates CHOH stretching of the alcohol group, which is</JL>
      <JL {...BODY} y={1656}>produced after the opening of the epoxy group of the GMA. The other small changes detected in the</JL>
      <JL {...BODY} y={1685}>Sil-MA specimens compared with controls are at 951 and 1,165 cm<Sp>−1</Sp>, representing CH<Sb>2</Sb> wagging</JL>
      <JL {...BODY} y={1714}>stretching of the methacrylate vinyl group in GMA. If Sil-MA is analyzed according to the GMA</JL>
      <JL {...BODY} y={1743}>concentration, these peaks gradually increase with increasing quantities of GMA. The GMA func-</JL>
      <JL {...BODY} y={1772}>tional groups are only slightly detectable or hidden by SF peaks because the molecular weight of GMA</JL>
      <JL {...BODY} y={1800}>is much smaller than that of the SF. In the NMR results for the Sil-MA sponge (Fig. <span style={{ color: LINK }}>7b</span>), the</JL>

      {/* footer */}
      <L x={127} y={1856} s={15.5} w={700} c={pageText}>5526</L>
      <L x={1360} y={1856} s={15.5} a="r" c="#555555">
        <span style={{ color: PURPLE, fontWeight: 700 }}>NATURE PROTOCOLS</span> | VOL 16 | DECEMBER 2021 | 5484–5532 | <span style={{ color: LINK }}>www.nature.com/nprot</span>
      </L>
    </div>
  );
}
